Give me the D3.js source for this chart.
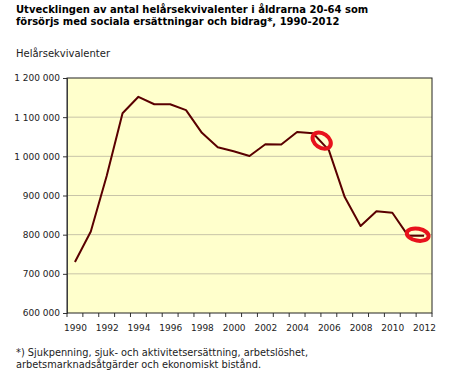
<!DOCTYPE html>
<html>
<head>
<meta charset="utf-8">
<script src="https://cdn.jsdelivr.net/npm/d3@7"></script>
<style>
    body { margin: 0; background: #fff; }
    text { font-family: "DejaVu Sans", Verdana, sans-serif; }
</style>
</head>
<body>
<div id="content"></div>
<script>
// ******* DATA *******
const years = d3.range(1990, 2013).map(String);
const values = [730000, 808000, 950000, 1110000, 1152000, 1133000, 1133000, 1118000,
    1060000, 1023000, 1013000, 1001000, 1031000, 1030000, 1062000, 1059000,
    1016000, 896000, 822000, 860000, 856000, 797000, 797000];
const yTicks = [600000, 700000, 800000, 900000, 1000000, 1100000, 1200000];
const xLabels = years.filter((d, i) => i % 2 === 0);
// hand-drawn red marks in the picture, placed by year (+ fraction of a step) and value
const marks = [
    { year: "2005", dx: 0.55, value: 1040000, rx: 10, ry: 7, rot: 35 },
    { year: "2012", dx: -0.4, value: 800000, rx: 11, ry: 6, rot: 10 }
];

const titleLines = [
    "Utvecklingen av antal helårsekvivalenter i åldrarna 20-64 som",
    "försörjs med sociala ersättningar och bidrag*, 1990-2012"
];
const footLines = [
    "*) Sjukpenning, sjuk- och aktivitetsersättning, arbetslöshet,",
    "arbetsmarknadsåtgärder och ekonomiskt bistånd."
];

// ******* LAYOUT *******
const width = 450, height = 388;
const plot = { left: 67, right: 432, top: 78, bottom: 313 };

const svg = d3.select("#content").append("svg")
    .attr("width", width)
    .attr("height", height);

// title
svg.append("g").selectAll("text")
    .data(titleLines)
    .join("text")
    .attr("x", 16)
    .attr("y", (d, i) => 13 + i * 12)
    .attr("font-size", 10)
    .attr("font-weight", "bold")
    .attr("fill", "#000")
    .text(d => d);

// y axis title
svg.append("text")
    .attr("x", 16)
    .attr("y", 57)
    .attr("font-size", 10)
    .attr("fill", "#222")
    .text("Helårsekvivalenter");

// scales
const x = d3.scalePoint()
    .domain(years)
    .range([plot.left, plot.right])
    .padding(0.5);
const step = x.step();

const y = d3.scaleLinear()
    .domain([600000, 1200000])
    .range([plot.bottom, plot.top]);

// plot background
svg.append("rect")
    .attr("x", plot.left)
    .attr("y", plot.top)
    .attr("width", plot.right - plot.left)
    .attr("height", plot.bottom - plot.top)
    .attr("fill", "#ffffcc");

// gridlines
svg.append("g").selectAll("line")
    .data(yTicks.slice(1, -1))
    .join("line")
    .attr("x1", plot.left)
    .attr("x2", plot.right)
    .attr("y1", d => y(d))
    .attr("y2", d => y(d))
    .attr("stroke", "#c8c4a8")
    .attr("stroke-width", 1);

// y axis
const fmt = d => d3.format(",")(d).replace(/,/g, " ");
const yAxis = svg.append("g")
    .attr("transform", `translate(${plot.left},0)`)
    .call(d3.axisLeft(y).tickValues(yTicks).tickFormat(fmt).tickSize(4).tickPadding(3));
yAxis.select(".domain").attr("stroke", "#555");
yAxis.selectAll(".tick line").attr("stroke", "#333");
yAxis.selectAll("text").attr("font-size", 9).attr("fill", "#222")
    .attr("font-family", "'DejaVu Sans', Verdana, sans-serif");

// x axis labels
const xAxis = svg.append("g")
    .attr("transform", `translate(0,${plot.bottom})`)
    .call(d3.axisBottom(x).tickValues(xLabels).tickSize(0).tickPadding(12));
xAxis.select(".domain").remove();
xAxis.selectAll("text").attr("font-size", 9).attr("fill", "#222")
    .attr("font-family", "'DejaVu Sans', Verdana, sans-serif");

// x tick marks at category boundaries
svg.append("g").selectAll("line")
    .data(years.concat(["end"]))
    .join("line")
    .attr("x1", (d, i) => plot.left + i * step)
    .attr("x2", (d, i) => plot.left + i * step)
    .attr("y1", plot.bottom)
    .attr("y2", plot.bottom + 4)
    .attr("stroke", "#333");

// plot border
svg.append("rect")
    .attr("x", plot.left)
    .attr("y", plot.top)
    .attr("width", plot.right - plot.left)
    .attr("height", plot.bottom - plot.top)
    .attr("fill", "none")
    .attr("stroke", "#222")
    .attr("stroke-width", 1);

// the line
const line = d3.line()
    .x((d, i) => x(years[i]))
    .y(d => y(d));

svg.append("path")
    .datum(values)
    .attr("d", line)
    .attr("fill", "none")
    .attr("stroke", "#5a0000")
    .attr("stroke-width", 2)
    .attr("stroke-linejoin", "round");

// red hand marks
svg.append("g").selectAll("ellipse")
    .data(marks)
    .join("ellipse")
    .attr("transform", d => `translate(${x(d.year) + d.dx * step},${y(d.value)}) rotate(${d.rot})`)
    .attr("rx", d => d.rx)
    .attr("ry", d => d.ry)
    .attr("fill", "none")
    .attr("stroke", "#e8121c")
    .attr("stroke-width", 4);

// footnote
svg.append("g").selectAll("text")
    .data(footLines)
    .join("text")
    .attr("x", 16)
    .attr("y", (d, i) => 356 + i * 12)
    .attr("font-size", 9.8)
    .attr("fill", "#222")
    .text(d => d);
</script>
</body>
</html>
